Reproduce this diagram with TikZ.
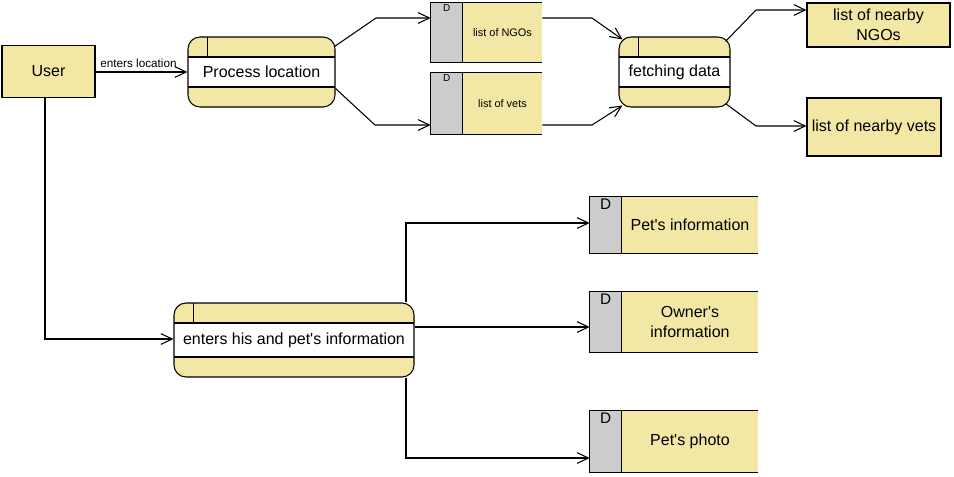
\documentclass[tikz,border=0pt]{standalone}
\usepackage{fontspec}
\setmainfont{Liberation Sans}[Ligatures=TeXOff]
\usetikzlibrary{arrows.meta,calc}
\definecolor{vpyellow}{RGB}{242,231,164}
\definecolor{vpgray}{RGB}{204,204,204}
\newcommand\dfdstore[8]{%
  \node[storebg, minimum width={(#4-#2)*0.75pt}, minimum height={(#5-#3)*0.75pt}] (#1) at ({(#2+#4)/2},{(#3+#5)/2}) {};
  \fill[vpgray] (#1.north west) rectangle ([xshift=24pt]#1.south west);
  \draw[line] (#1.north east) -- (#1.north west) -- (#1.south west) -- (#1.south east);
  \draw[line] ([xshift=24pt]#1.north west) -- ([xshift=24pt]#1.south west);
  \node[anchor=north, inner sep=1.5pt, font=\fontsize{#7}{#7}\selectfont] (#1d) at ([xshift=12pt]#1.north west) {D};
  \node[align=center, inner sep=0pt, font=\fontsize{#8}{15}\selectfont] (#1t) at ([xshift=12pt]#1.center) {#6};
}
\begin{document}
\begin{tikzpicture}[x=0.75pt,y=-0.75pt,
  line/.style={line width=0.8pt, black},
  arr/.style={line, -{Straight Barb[length=8.5pt,width=8pt]}},
  storebg/.style={fill=vpyellow, inner sep=0pt},
  extbox/.style={draw, line width=0.8pt, fill=vpyellow, inner sep=0pt, align=center, font=\fontsize{12}{15}\selectfont},
  procshape/.style={draw, line width=0.8pt, fill=vpyellow, rounded corners=9pt, inner sep=0pt, font=\fontsize{12}{15}\selectfont,
    path picture={
      \coordinate (ppnw) at (path picture bounding box.north west);
      \coordinate (ppse) at (path picture bounding box.south east);
      \fill[white, sharp corners] ([yshift=-15pt]ppnw) rectangle ([yshift=15pt]ppse);
      \draw[line, sharp corners] ([yshift=-15pt]ppnw) -- ([yshift=-15pt]ppnw -| ppse);
      \draw[line, sharp corners] ([yshift=15pt]ppse) -- ([yshift=15pt]ppse -| ppnw);
      \draw[line, sharp corners] ([xshift=14.5pt]ppnw) -- ++(0,-15pt);
    }},
  lbl/.style={inner sep=0pt, font=\fontsize{8.8}{10}\selectfont}
]
\fill[white] (0,0) rectangle (954,476);
\useasboundingbox (0,0) rectangle (954,476);

% external entities
\node[extbox, minimum width=69.75pt, minimum height=39pt] (user) at (48.5,71.5) {User};
\node[extbox, minimum width=107.25pt, minimum height=33pt] (n1) at (878.5,25) {list of nearby\\NGOs};
\node[extbox, minimum width=100.5pt, minimum height=43.5pt] (n2) at (874,127) {list of nearby vets};

% processes
\node[procshape, minimum width=110.25pt, minimum height=52.5pt] (p1) at (261.5,72) {Process location};
\node[procshape, minimum width=83.25pt, minimum height=52.5pt] (f) at (674.5,72) {fetching data};
\node[procshape, minimum width=180pt, minimum height=55.5pt] (e) at (294,340) {enters his and pet's information};

% data stores
\dfdstore{s1}{431}{3}{542}{62}{list of NGOs}{7.5}{8.2}
\dfdstore{s2}{431}{73}{542}{134}{list of vets}{7.5}{8.2}
\dfdstore{s3}{590}{197}{758}{253}{Pet's information}{11.5}{12}
\dfdstore{s4}{590}{292}{758}{352}{Owner's\\information}{11.5}{12}
\dfdstore{s5}{590}{411}{758}{472}{Pet's photo}{11.5}{12}

% bend points
\coordinate (k1) at (376,18);
\coordinate (k2) at (375,125);
\coordinate (k3) at (592,18);
\coordinate (k4) at (592,125);
\coordinate (k5) at (756,10);
\coordinate (k6) at (756,126);
\coordinate (k7) at (45,339);
\coordinate (k8) at (406,223);
\coordinate (k9) at (414,327);
\coordinate (k10) at (406,458);

% connectors
\draw[arr] (user.east |- p1.west) -- (p1.west);
\node[lbl] (l1) at (138.5,63) {enters location};
\draw[arr] ($(p1.north east)+(-1,10)$) -- (k1) -- (s1.west |- k1);
\draw[arr] ($(p1.south east)+(0,-19)$) -- (k2) -- (s2.west |- k2);
\draw[arr] (s1.east |- k3) -- (k3) -- ($(f.north west)+(4,3)$);
\draw[arr] (s2.east |- k4) -- (k4) -- ($(f.south west)+(4,-2)$);
\draw[arr] ($(f.north east)+(-5,5)$) -- (k5) -- (n1.west |- k5);
\draw[arr] ($(f.south east)+(-5,-4)$) -- (k6) -- (n2.west |- k6);
\draw[arr] (user.south -| k7) -- (k7) -- (e.west |- k7);
\draw[arr] (e.north -| k8) -- (k8) -- (s3.west |- k8);
\draw[arr] (e.east |- k9) -- (s4.west |- k9);
\draw[arr] (e.south -| k10) -- (k10) -- (s5.west |- k10);
\end{tikzpicture}
\end{document}
